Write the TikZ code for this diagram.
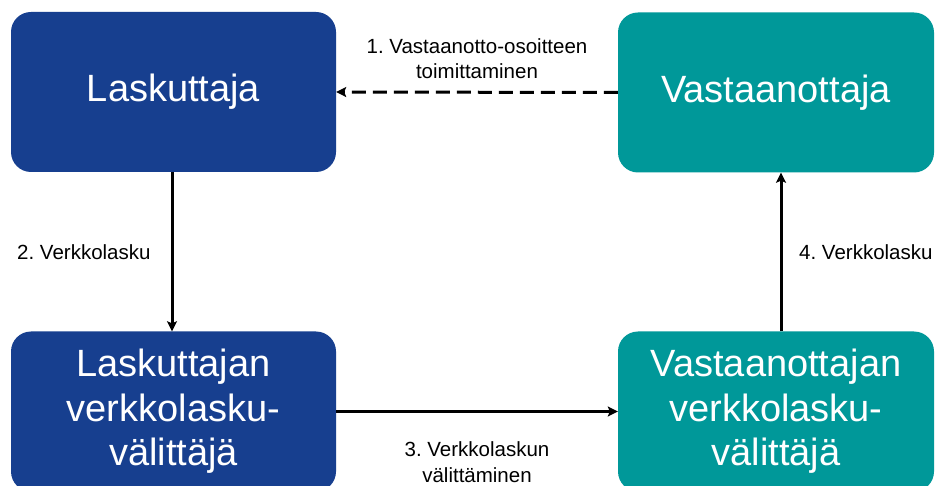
\documentclass[tikz,border=0pt]{standalone}
\usepackage{fontspec}
\setmainfont{Liberation Sans}
\usetikzlibrary{arrows.meta}
\frenchspacing
\definecolor{boxblue}{RGB}{23,63,143}
\definecolor{boxteal}{RGB}{0,152,153}
\tikzset{
  bigbox/.style={rounded corners=20pt, minimum width=#1, minimum height=160pt, inner sep=0pt,
    text=white, align=center, font=\fontsize{38}{44.5}\selectfont},
  bluebox/.style={bigbox=325pt, fill=boxblue},
  tealbox/.style={bigbox=316pt, fill=boxteal},
  arr/.style={line width=3pt, -{Stealth[length=10pt,width=10pt,inset=2pt]}},
  dasharr/.style={arr, dash pattern=on 14pt off 7pt},
  lbl/.style={font=\frenchspacing\fontsize{20.5}{25}\selectfont, align=center, inner sep=0pt}
}
\begin{document}
\begin{tikzpicture}[x=1pt,y=-1pt]
  \useasboundingbox (0,0) rectangle (935,486);
  \clip (0,0) rectangle (935,486);
  \fill[white] (0,0) rectangle (935,486);
  \node[bluebox] (L) at (173.5,92) {Laskuttaja};
  \node[tealbox] (V) at (776,92.5) {Vastaanottaja};
  \node[bluebox] (LV) at (173.5,411.5) {Laskuttajan\\verkkolasku-\\välittäjä};
  \node[tealbox] (VV) at (776,411.5) {Vastaanottajan\\verkkolasku-\\välittäjä};
  \draw[dasharr] (V.west) -- (L.east);
  \draw[arr] ([xshift=-1.5pt]L.south) -- ([xshift=-1.5pt]LV.north);
  \draw[arr] (LV.east) -- (VV.west);
  \draw[arr] ([xshift=5pt]VV.north) -- ([xshift=5pt]V.south);
  \node[lbl, anchor=base] (l1) at (477,79) {1. Vastaanotto-osoitteen\\toimittaminen};
  \node[lbl, anchor=base west] (l2) at (17,260) {2. Verkkolasku};
  \node[lbl, anchor=base] (l3) at (477,482) {3. Verkkolaskun\\välittäminen};
  \node[lbl, anchor=base west] (l4) at (799,260) {4. Verkkolasku};
\end{tikzpicture}
\end{document}
